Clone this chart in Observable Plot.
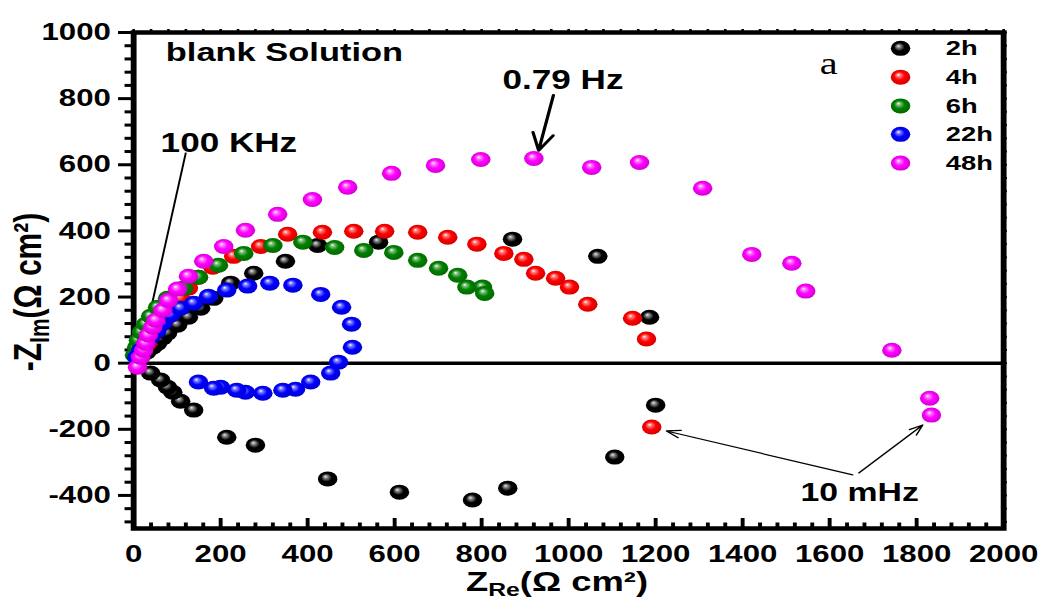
<!DOCTYPE html>
<html>
<head>
<meta charset="utf-8">
<script src="https://cdn.jsdelivr.net/npm/d3@7"></script>
<script src="https://cdn.jsdelivr.net/npm/@observablehq/plot@0.6"></script>
<style>
html, body { margin: 0; padding: 0; background: #fff; }
#chart svg { display: block; }
</style>
</head>
<body>
<div id="chart"></div>
<script>
// ---------------- data (Z_Re, -Z_Im in Ω cm²) ----------------
const seriesNames = ["2h", "4h", "6h", "22h", "48h"];
const seriesColors = ["#000000", "#ff0000", "#008000", "#0000ff", "#ff00ff"];

const x2h = [16, 30, 44, 55, 67, 78, 101, 126, 154, 184, 223, 276, 349, 423, 563, 871, 1067, 1186, 1200, 1106, 860, 779, 611, 446, 280, 214, 138, 108, 90, 78, 62, 39];
const y2h = [18, 33, 48, 60, 76, 91, 115, 139, 166, 196, 242, 272, 308, 356, 366, 375, 323, 139, -127, -284, -378, -414, -390, -350, -248, -224, -142, -115, -88, -73, -51, -30];

const x4h = [9, 21, 32, 44, 57, 74, 90, 108, 126, 149, 182, 230, 292, 354, 434, 506, 577, 653, 722, 789, 851, 897, 924, 970, 1002, 1044, 1147, 1179, 1191];
const y4h = [15, 39, 60, 85, 109, 136, 166, 196, 227, 260, 290, 323, 353, 390, 396, 399, 399, 396, 381, 360, 332, 314, 272, 257, 230, 178, 136, 73, -193];

const x6h = [2, 7, 11, 18, 28, 39, 55, 78, 115, 149, 195, 253, 320, 389, 462, 529, 598, 653, 701, 745, 766, 802, 807];
const y6h = [24, 48, 69, 94, 118, 142, 169, 196, 227, 260, 296, 332, 356, 366, 350, 341, 335, 311, 287, 266, 230, 230, 211];

const x22h = [7, 16, 28, 39, 53, 67, 85, 108, 138, 172, 214, 262, 313, 366, 430, 478, 501, 503, 471, 453, 407, 372, 343, 297, 257, 237, 200, 184, 149];
const y22h = [18, 39, 60, 79, 97, 121, 145, 166, 181, 202, 221, 233, 242, 236, 208, 169, 118, 48, 3, -30, -57, -79, -82, -91, -88, -82, -73, -76, -57];

const x48h = [9, 16, 23, 28, 34, 44, 51, 67, 80, 101, 126, 161, 207, 257, 331, 411, 492, 593, 694, 798, 920, 1053, 1163, 1308, 1421, 1513, 1545, 1743, 1830, 1834];
const y48h = [-12, 18, 39, 60, 85, 109, 130, 160, 190, 224, 263, 308, 353, 402, 450, 495, 532, 574, 598, 616, 619, 592, 607, 529, 329, 302, 218, 39, -106, -157];

const seriesX = [x2h, x4h, x6h, x22h, x48h];
const seriesY = [y2h, y4h, y6h, y22h, y48h];

// axis ticks
const xMajorTicks = d3.range(0, 2001, 200);
const yMajorTicks = d3.range(-400, 1001, 200);
const xMinorTicks = d3.range(0, 2001, 40).filter(v => v % 200 !== 0);
const yMinorTicks = d3.range(-480, 1000, 40).filter(v => v % 200 !== 0);

// annotation texts
const notes = [
  {text: "blank Solution", x: 74, y: 940, size: 26.5, font: "sans"},
  {text: "100 KHz", x: 62, y: 665, size: 27, font: "sans"},
  {text: "0.79 Hz", x: 848, y: 855, size: 27, font: "sans"},
  {text: "10 mHz", x: 1533, y: -393, size: 26, font: "sans"},
  {text: "a", x: 1577, y: 905, size: 31, font: "serif"}
];
const pointerLines = [{x1: 120, y1: 637, x2: 16, y2: 24}];
const bigArrows = [{x1: 965, y1: 810, x2: 931, y2: 643}];
const thinArrows = [
  {x1: 1653, y1: -338, x2: 1225, y2: -205},
  {x1: 1667, y1: -332, x2: 1814, y2: -187}
];
// legend layout (in data units of the plot)
const legendMarkerX = 1763;
const legendLabelX = 1867;
const legendRowsY = [952, 865, 778, 692, 605];

// ---------------- build ----------------
const STRETCH = 1.3;            // horizontal stretch of the original picture
const W = 1040, H = 603;
const IW = W / STRETCH;
const mL = 133 / STRETCH, mR = 37 / STRETCH, mT = 32, mB = 75;
const frameW = IW - mL - mR, frameH = H - mT - mB;

const points = seriesNames.flatMap((s, i) =>
  seriesX[i].map((x, j) => ({series: s, idx: i, x, y: seriesY[i][j]})));
const legendData = seriesNames.map((s, i) => ({series: s, idx: i, x: legendMarkerX, lx: legendLabelX, y: legendRowsY[i]}));

const FONT = "'Liberation Sans', Arial, Helvetica, sans-serif";
const SERIF = "'Liberation Serif', 'Times New Roman', serif";
const plain = d => String(d);

const marks = [
  // y = 0 line
  Plot.ruleY([0], {stroke: "#000", strokeWidth: 3.5}),
  // bottom inward ticks
  Plot.tickX(xMajorTicks, {x: d => d, insetTop: frameH - 10, strokeWidth: 3, stroke: "#000"}),
  Plot.tickX(xMinorTicks, {x: d => d, insetTop: frameH - 5.5, strokeWidth: 3, stroke: "#000"}),
  // top and right tiny outward ticks
  Plot.tickX(xMinorTicks.concat(xMajorTicks), {x: d => d, insetTop: -3, insetBottom: frameH, strokeWidth: 2, stroke: "#000"}),
  Plot.tickY(yMinorTicks.concat(yMajorTicks), {y: d => d, insetLeft: frameW, insetRight: -3, strokeWidth: 2, stroke: "#000"}),
  // left axis (outward ticks)
  Plot.axisY({ticks: yMajorTicks, tickSize: 11.5, tickPadding: 6, tickFormat: plain, strokeWidth: 3, label: null, fontSize: 24, fontWeight: "bold"}),
  Plot.axisY({ticks: yMinorTicks, tickSize: 6.5, tickFormat: () => "", strokeWidth: 3, label: null}),
  Plot.axisX({ticks: xMajorTicks, tickSize: 0, tickPadding: 16, tickFormat: plain, label: null, fontSize: 24, fontWeight: "bold"}),
  Plot.frame({stroke: "#000", strokeWidth: 4.5}),
  // annotations
  Plot.link(pointerLines, {x1: "x1", y1: "y1", x2: "x2", y2: "y2", stroke: "#000", strokeWidth: 1.5}),
  Plot.arrow(bigArrows, {x1: "x1", y1: "y1", x2: "x2", y2: "y2", stroke: "#000", strokeWidth: 2.5, headLength: 16, headAngle: 50}),
  Plot.arrow(thinArrows, {x1: "x1", y1: "y1", x2: "x2", y2: "y2", stroke: "#000", strokeWidth: 1.2, headLength: 14, headAngle: 40}),
  Plot.text(notes.filter(d => d.font === "sans"), {x: "x", y: "y", text: "text", fontSize: d => d.size, textAnchor: "start", lineAnchor: "middle", fontWeight: "bold", fill: "#000"}),
  Plot.text(notes.filter(d => d.font === "serif"), {x: "x", y: "y", text: "text", fontSize: 31, textAnchor: "start", lineAnchor: "middle", fontWeight: "normal", fontFamily: SERIF, fill: "#000"}),
  // legend
  Plot.text(legendData, {x: "lx", y: "y", text: "series", fontSize: 21, textAnchor: "start", lineAnchor: "middle", fontWeight: "bold", fill: "#000"})
];
legendData.forEach((d, i) => marks.push(Plot.dot([d], {x: "x", y: "y", r: 7.5, fill: `url(#sph${i})`, stroke: "none"})));
seriesNames.forEach((s, i) => {
  marks.push(Plot.dot(points.filter(p => p.idx === i), {x: "x", y: "y", r: 7.5, fill: `url(#sph${i})`, stroke: "none"}));
});

const chart = Plot.plot({
  width: IW,
  height: H,
  marginLeft: mL,
  marginRight: mR,
  marginTop: mT,
  marginBottom: mB,
  x: {domain: [0, 2000]},
  y: {domain: [-500, 1000]},
  style: {fontFamily: FONT, fontWeight: "bold", color: "#000", background: "#fff", overflow: "visible"},
  marks
});

// sphere gradients
const svg = d3.select(chart);
const defs = svg.insert("defs", ":first-child");
seriesColors.forEach((c, i) => {
  const base = d3.color(c);
  const light = d3.interpolateRgb(c, "#ffffff")(i === 0 ? 0.55 : 0.5);
  const dark = i === 0 ? "#000000" : base.darker(0.6).formatHex();
  const g = defs.append("radialGradient").attr("id", `sph${i}`)
    .attr("cx", "0.5").attr("cy", "0.5").attr("r", "0.55")
    .attr("fx", "0.38").attr("fy", "0.33");
  g.append("stop").attr("offset", "0").attr("stop-color", i === 0 ? "#e8e8e8" : "#ffffff");
  g.append("stop").attr("offset", "0.18").attr("stop-color", light);
  g.append("stop").attr("offset", "0.5").attr("stop-color", c);
  g.append("stop").attr("offset", "1").attr("stop-color", dark);
});

// axis titles with sub/superscripts
const xTitle = svg.append("text")
  .attr("x", 557 / STRETCH)
  .attr("y", 591)
  .attr("text-anchor", "middle")
  .attr("font-family", FONT).attr("font-weight", "bold").attr("font-size", 28).attr("fill", "#000");
xTitle.append("tspan").text("Z");
xTitle.append("tspan").attr("font-size", 19).attr("dy", 5).text("Re");
xTitle.append("tspan").attr("dy", -5).text("(Ω cm²)");

const yTitle = svg.append("text")
  .attr("transform", `translate(${41 / STRETCH},292) rotate(-90)`)
  .attr("text-anchor", "middle")
  .attr("font-family", FONT).attr("font-weight", "bold").attr("font-size", 30).attr("fill", "#000");
yTitle.append("tspan").text("-Z");
yTitle.append("tspan").attr("font-size", 21).attr("dy", 6).text("Im");
yTitle.append("tspan").attr("dy", -6).text("(Ω cm²)");

// stretch horizontally to the final 1040 x 603 picture
chart.setAttribute("width", W);
chart.setAttribute("height", H);
chart.setAttribute("preserveAspectRatio", "none");
chart.style.width = W + "px";
chart.style.height = H + "px";
chart.style.maxWidth = "none";

document.getElementById("chart").appendChild(chart);
</script>
</body>
</html>
